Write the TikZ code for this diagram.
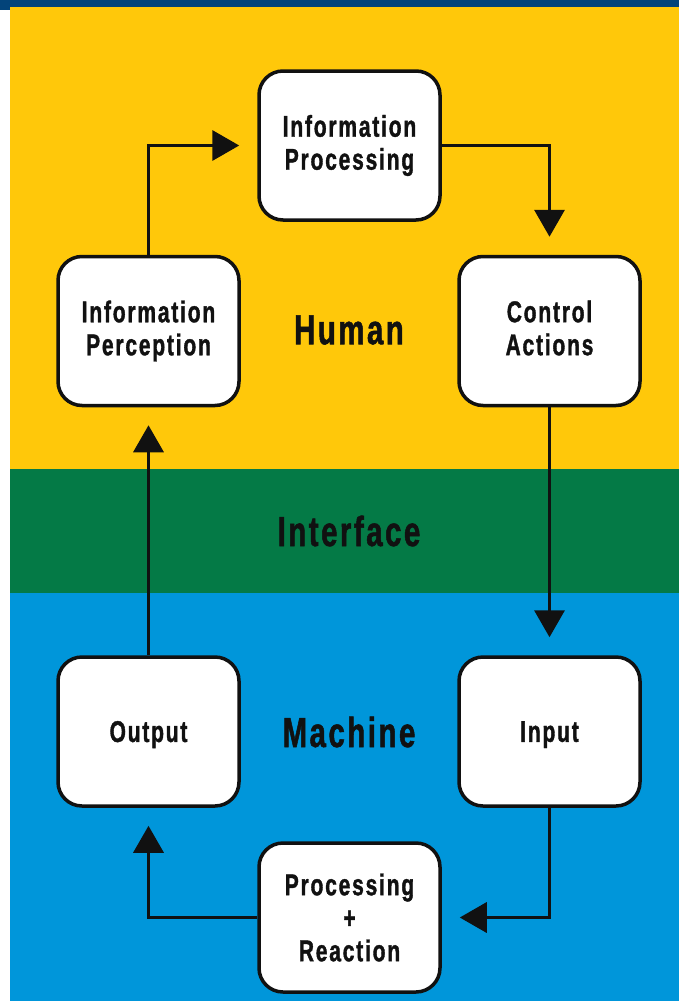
\documentclass[tikz,border=0pt]{standalone}
\usepackage{fontspec}
\newfontfamily\condfont{Liberation Sans}[FakeStretch=0.7,LetterSpace=6,FakeBold=1.2]
\usetikzlibrary{arrows.meta}
\definecolor{navy}{RGB}{3,68,122}
\definecolor{humanbg}{RGB}{255,200,10}
\definecolor{ifacebg}{RGB}{4,122,70}
\definecolor{machinebg}{RGB}{0,150,218}
\definecolor{ink}{RGB}{17,17,17}
\begin{document}
\begin{tikzpicture}[x=1pt,y=-1pt,
  box/.style={draw=ink, line width=3.5pt, fill=white, rounded corners=24pt,
    minimum width=181pt, minimum height=149pt, inner sep=0pt, align=center,
    text=ink, font=\condfont\bfseries\fontsize{30}{33}\selectfont},
  oneline/.style={text depth=0pt},
  zonelabel/.style={text=ink, inner sep=0pt,
    font=\condfont\bfseries\fontsize{42}{46}\selectfont},
  flow/.style={draw=ink, line width=3.5pt, shorten >=18pt,
    -{Triangle[length=27pt,width=30pt]}}]
\useasboundingbox (0,0) rectangle (679,1001);
% bands
\fill[white] (0,0) rectangle (679,1001);
\fill[humanbg] (10,7) rectangle (679,469);
\fill[ifacebg] (10,469) rectangle (679,593);
\fill[machinebg] (10,593) rectangle (679,1001);
\fill[navy] (0,0) rectangle (679,7);
\fill[navy] (0,0) rectangle (10,10);
% zone titles
\node[zonelabel] (human) at (349,330) {Human};
\node[zonelabel] (iface) at (349,531) {Interface};
\node[zonelabel] (machine) at (349,732) {Machine};
% steps
\node[box] (proc) at (349.5,145.5) {Information\\Processing};
\node[box] (perc) at (148.5,331) {Information\\Perception};
\node[box] (ctrl) at (549.5,331) {Control\\Actions\vphantom{g}};
\node[box, oneline] (out) at (148.5,731.5) {Output};
\node[box, oneline] (inp) at (549.5,731.5) {Input};
\node[box] (react) at (349.5,917.5) {Processing\\+\\Reaction};
% loop
\draw[flow] (perc.north) |- (proc.west);
\draw[flow] (proc.east) -| (ctrl.north);
\draw[flow] (ctrl.south) -- (inp.north);
\draw[flow] (inp.south) |- (react.east);
\draw[flow] (react.west) -| (out.south);
\draw[flow] (out.north) -- (perc.south);
\end{tikzpicture}
\end{document}
